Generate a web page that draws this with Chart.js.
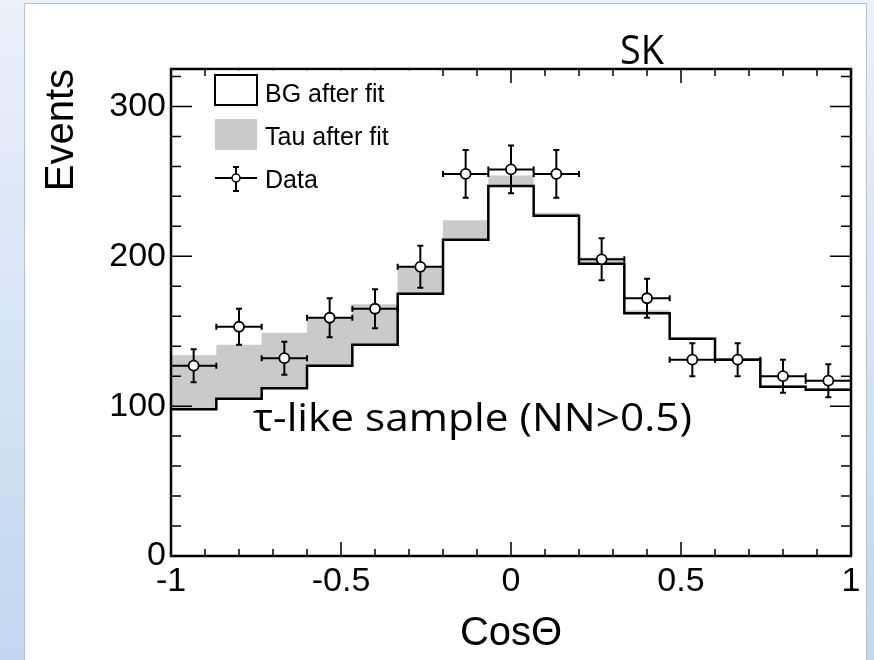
<!DOCTYPE html>
<html>
<head>
<meta charset="utf-8">
<title>SK tau-like sample</title>
<script src="https://cdn.jsdelivr.net/npm/chart.js@4.4.0/dist/chart.umd.min.js"></script>
<style>
  html, body { margin: 0; padding: 0; }
  body {
    width: 874px; height: 660px; position: relative; overflow: hidden;
    background: linear-gradient(#ebf1f9, #c2d7ee);
  }
  #panel {
    position: absolute; left: 24px; top: 3px; width: 843px; height: 662px;
    background: #fff; border: 1px solid #b4c2d0; box-sizing: border-box;
  }
  #wrap { position: absolute; left: 0; top: 0; width: 874px; height: 660px; }
</style>
</head>
<body>
<div id="panel"></div>
<div id="wrap"><canvas id="chart" width="874" height="660"></canvas></div>
<script>
// bin edges of cos(theta), 15 bins from -1 to 1
var binEdges = [-1, -0.8667, -0.7333, -0.6, -0.4667, -0.3333, -0.2, -0.0667,
                0.0667, 0.2, 0.3333, 0.4667, 0.6, 0.7333, 0.8667, 1];

// background after fit (events per bin)
var bgAfterFit = [98, 105, 112, 127, 141, 175, 211, 247, 227, 195, 162, 145, 131, 113, 111];
// tau after fit, stacked on top of the background
var tauAfterFit = [36, 36, 37, 32, 27, 18, 13, 7, 2, 4, 2, 1, 1, 1, 1];
// observed data and its error
var dataEvents = [127, 153, 132, 159, 165, 193, 255, 258, 255, 198, 172, 131, 131, 120, 117];
var dataErr = [11, 12, 11, 13, 13, 14, 16, 16, 16, 14, 13, 11, 11, 11, 11];

var xTickLabels = [-1, -0.5, 0, 0.5, 1];
var yTickLabels = [0, 100, 200, 300];

var FONT = '"Liberation Sans", Arial, Helvetica, sans-serif';
Chart.defaults.font.family = FONT;
Chart.defaults.color = '#000';

// step histogram: one point at each left edge, plus the closing right edge
function stepPoints(vals) {
    var pts = [];
    for (var i = 0; i < vals.length; i++) {
        pts.push({x: binEdges[i], y: vals[i]});
    }
    pts.push({x: binEdges[binEdges.length - 1], y: vals[vals.length - 1]});
    return pts;
}

var totalVals = bgAfterFit.map(function(b, i) { return b + tauAfterFit[i]; });
var dataPoints = dataEvents.map(function(v, i) {
    return {x: (binEdges[i] + binEdges[i + 1]) / 2, y: v};
});

// error bars behind the data markers
var errorBars = {
    id: 'errorBars',
    beforeDatasetDraw: function(chart, args) {
        if (args.index !== 0) return;
        var ctx = chart.ctx, xs = chart.scales.x, ys = chart.scales.y;
        ctx.save();
        ctx.strokeStyle = '#000';
        ctx.lineWidth = 2;
        ctx.beginPath();
        dataPoints.forEach(function(p, i) {
            var x0 = xs.getPixelForValue(binEdges[i]);
            var x1 = xs.getPixelForValue(binEdges[i + 1]);
            var xc = xs.getPixelForValue(p.x);
            var yc = ys.getPixelForValue(p.y);
            var yt = ys.getPixelForValue(p.y + dataErr[i]);
            var yb = ys.getPixelForValue(p.y - dataErr[i]);
            ctx.moveTo(x0, yc); ctx.lineTo(x1, yc);
            ctx.moveTo(x0, yc - 3); ctx.lineTo(x0, yc + 3);
            ctx.moveTo(x1, yc - 3); ctx.lineTo(x1, yc + 3);
            ctx.moveTo(xc, yt); ctx.lineTo(xc, yb);
            ctx.moveTo(xc - 3, yt); ctx.lineTo(xc + 3, yt);
            ctx.moveTo(xc - 3, yb); ctx.lineTo(xc + 3, yb);
        });
        ctx.stroke();
        ctx.restore();
    }
};

// ROOT style frame with ticks pointing inwards
var frameTicks = {
    id: 'frameTicks',
    afterDatasetsDraw: function(chart) {
        var ctx = chart.ctx, a = chart.chartArea, xs = chart.scales.x, ys = chart.scales.y;
        ctx.save();
        ctx.strokeStyle = '#000';
        ctx.lineWidth = 1.5;
        ctx.beginPath();
        for (var i = -10; i <= 10; i++) {
            var px = xs.getPixelForValue(i / 10);
            var len = (i % 5 === 0) ? 14 : 7;
            ctx.moveTo(px, a.bottom); ctx.lineTo(px, a.bottom - len);
            ctx.moveTo(px, a.top); ctx.lineTo(px, a.top + len);
        }
        for (var v = 0; v <= 320; v += 20) {
            var py = ys.getPixelForValue(v);
            var l2 = (v % 100 === 0) ? 21 : 10;
            ctx.moveTo(a.left, py); ctx.lineTo(a.left + l2, py);
            ctx.moveTo(a.right, py); ctx.lineTo(a.right - l2, py);
        }
        ctx.stroke();
        ctx.lineWidth = 2.5;
        ctx.strokeRect(a.left, a.top, a.right - a.left, a.bottom - a.top);
        ctx.restore();
    }
};

function fitText(ctx, text, x, y, font, width) {
    ctx.font = font;
    var w = ctx.measureText(text).width;
    ctx.save();
    ctx.translate(x, y);
    ctx.scale(width / w, 1);
    ctx.fillText(text, 0, 0);
    ctx.restore();
}

// legend box in the top left corner of the frame, plus the slide labels
var legendBox = {
    id: 'legendBox',
    afterDraw: function(chart) {
        var ctx = chart.ctx, a = chart.chartArea;
        var lx = a.left + 44, ty = a.top;
        ctx.save();
        ctx.fillStyle = '#fff';
        ctx.fillRect(a.left + 38, ty + 1.5, 230, 128);

        ctx.strokeStyle = '#000';
        ctx.lineWidth = 2;
        ctx.strokeRect(lx, ty + 6, 42, 30);

        ctx.fillStyle = '#cacaca';
        ctx.fillRect(lx, ty + 50, 42, 31);

        ctx.beginPath();
        ctx.moveTo(lx, ty + 109); ctx.lineTo(lx + 42, ty + 109);
        ctx.moveTo(lx + 21, ty + 98); ctx.lineTo(lx + 21, ty + 122);
        ctx.moveTo(lx + 18, ty + 98); ctx.lineTo(lx + 24, ty + 98);
        ctx.moveTo(lx + 18, ty + 122); ctx.lineTo(lx + 24, ty + 122);
        ctx.stroke();
        ctx.beginPath();
        ctx.arc(lx + 21, ty + 109, 4, 0, Math.PI * 2);
        ctx.fillStyle = '#fff';
        ctx.fill();
        ctx.lineWidth = 1.5;
        ctx.stroke();

        ctx.fillStyle = '#000';
        ctx.font = '25px ' + FONT;
        ctx.textBaseline = 'alphabetic';
        ctx.fillText(chart.data.datasets[1].label, lx + 50, ty + 33);
        ctx.fillText(chart.data.datasets[2].label, lx + 50, ty + 76);
        ctx.fillText(chart.data.datasets[0].label, lx + 50, ty + 119);

        fitText(ctx, 'SK', 620, 64, '40px "Open Sans", sans-serif', 44);
        fitText(ctx, 'τ-like sample (NN>0.5)', 253, 431, '39px "Open Sans", sans-serif', 439);
        ctx.restore();
    }
};

new Chart(document.getElementById('chart'), {
    type: 'line',
    data: {
        datasets: [{
            label: 'Data',
            data: dataPoints,
            showLine: false,
            pointRadius: 5,
            pointBackgroundColor: '#fff',
            pointBorderColor: '#000',
            pointBorderWidth: 1.8
        }, {
            label: 'BG after fit',
            data: stepPoints(bgAfterFit),
            stepped: 'before',
            borderColor: '#000',
            borderWidth: 2.5,
            pointRadius: 0,
            fill: false
        }, {
            label: 'Tau after fit',
            data: stepPoints(totalVals),
            stepped: 'before',
            borderWidth: 0,
            borderColor: 'rgba(0,0,0,0)',
            backgroundColor: '#cacaca',
            pointRadius: 0,
            fill: 1
        }]
    },
    options: {
        responsive: false,
        animation: false,
        layout: {padding: {left: 24, right: 23, top: 69, bottom: 0}},
        plugins: {
            legend: {display: false},
            tooltip: {enabled: false}
        },
        scales: {
            x: {
                type: 'linear', min: -1, max: 1,
                grid: {display: false, drawTicks: false},
                border: {display: false},
                afterBuildTicks: function(s) {
                    s.ticks = xTickLabels.map(function(v) { return {value: v}; });
                },
                ticks: {
                    autoSkip: false, maxRotation: 0, padding: 5,
                    font: {size: 34},
                    callback: function(v) { return String(v); }
                },
                title: {
                    display: true, text: 'CosΘ', align: 'center',
                    font: {size: 40}, padding: {top: 0, bottom: 2}
                },
                afterFit: function(s) {
                    s.height = 104;
                    s.paddingLeft = 0; s.paddingRight = 0;
                }
            },
            y: {
                type: 'linear', min: 0, max: 325,
                grid: {display: false, drawTicks: false},
                border: {display: false},
                afterBuildTicks: function(s) {
                    s.ticks = yTickLabels.map(function(v) { return {value: v}; });
                },
                ticks: {padding: 5, font: {size: 34}},
                title: {
                    display: true, text: 'Events', align: 'end',
                    font: {size: 40}, padding: {top: 14, bottom: 0}
                },
                afterFit: function(s) {
                    s.width = 147;
                    s.paddingTop = 0; s.paddingBottom = 0;
                }
            }
        }
    },
    plugins: [errorBars, frameTicks, legendBox]
});
</script>
</body>
</html>
